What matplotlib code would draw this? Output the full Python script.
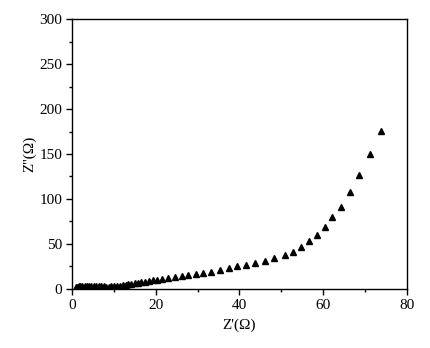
import matplotlib
matplotlib.use('Agg')
from matplotlib import pyplot as plt
from matplotlib.ticker import MultipleLocator

# Nyquist data
z_real = [0.9, 1.2, 1.6, 2.0, 2.5, 3.0, 3.5, 4.0, 4.6, 5.2, 5.8, 6.4, 7.0, 7.6, 8.2, 8.8,
          9.4, 10.0, 10.7, 11.4, 12.1, 12.8, 13.5, 14.2, 15.0, 15.8, 16.6, 17.4, 18.3,
          19.3, 20.3, 21.4, 23.0, 24.6, 26.2, 27.8, 29.6, 31.3, 33.3, 35.3, 37.5, 39.4,
          41.5, 43.7, 46.0, 48.3, 50.8, 52.9, 54.8, 56.7, 58.6, 60.4, 62.2, 64.2, 66.3,
          68.6, 71.1, 73.9]
z_imag = [1.5, 2.5, 3.0, 3.3, 3.5, 3.6, 3.6, 3.6, 3.5, 3.4, 3.2, 3.0, 2.8, 2.7, 2.6, 2.6,
          2.7, 2.9, 3.2, 3.6, 4.1, 4.6, 5.1, 5.7, 6.3, 6.9, 7.5, 8.1, 8.8,
          9.5, 10.2, 11.0, 12.0, 13.0, 14.0, 15.0, 16.0, 17.3, 19.0, 21.2, 23.5, 25.3,
          27.0, 28.8, 31.3, 34.1, 37.4, 41.5, 46.3, 53.0, 59.6, 68.5, 79.6, 91.5, 107.8,
          126.3, 149.6, 175.5]

plt.rcParams['font.family'] = ['Liberation Serif', 'DejaVu Serif']
plt.rcParams['font.size'] = 11

fig = plt.figure(figsize=(4.31, 3.48), dpi=100)
ax = fig.add_axes([0.167, 0.170, 0.777, 0.775])

ax.plot(z_real, z_imag, linestyle='none', marker='^', markersize=5, color='black')

ax.set_xlim(0, 80)
ax.set_ylim(0, 300)
ax.xaxis.set_major_locator(MultipleLocator(20))
ax.xaxis.set_minor_locator(MultipleLocator(10))
ax.yaxis.set_major_locator(MultipleLocator(50))
ax.yaxis.set_minor_locator(MultipleLocator(25))
ax.tick_params(which='major', direction='out', length=4, width=1, pad=3, top=False, right=False)
ax.tick_params(which='minor', direction='out', length=2, width=1, top=False, right=False)
for s in ax.spines.values():
    s.set_linewidth(1)

ax.set_xlabel("Z'(\u03a9)", labelpad=5)
ax.set_ylabel("Z''(\u03a9)", labelpad=2)

fig.savefig('out.png', dpi=100)
